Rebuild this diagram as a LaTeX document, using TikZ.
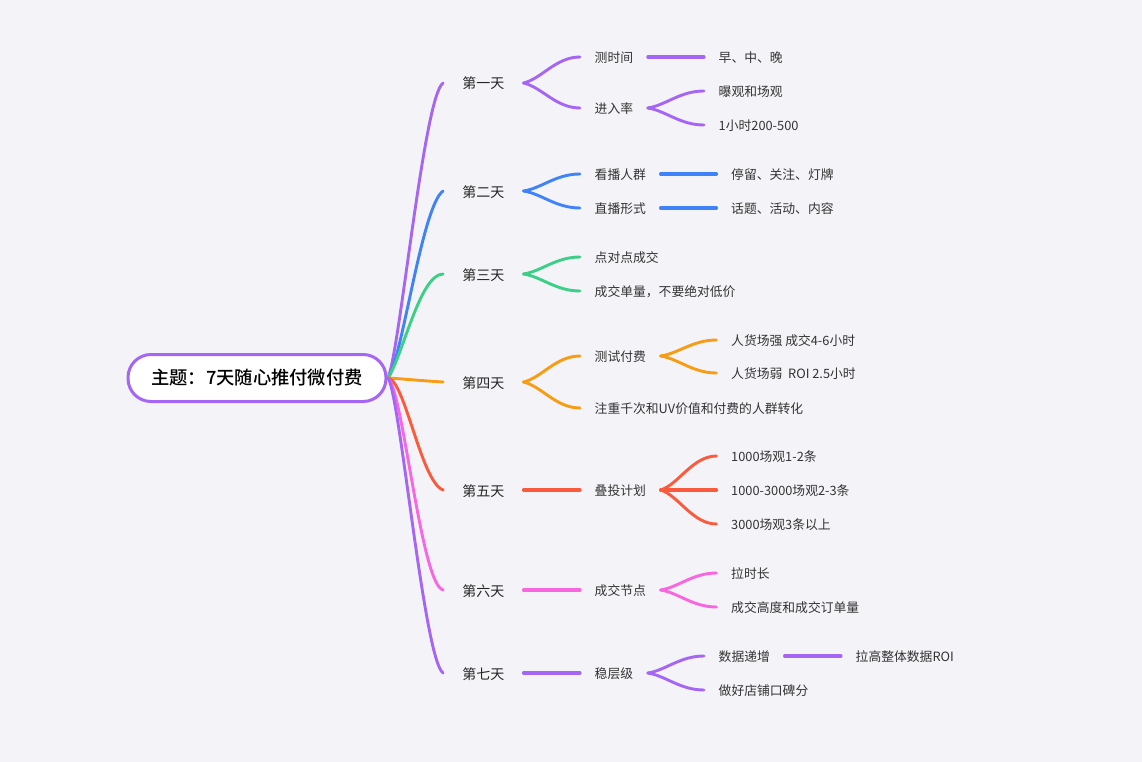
\documentclass[tikz,border=0pt]{standalone}
\usepackage{fontspec}
\usetikzlibrary{calc}
\setmainfont{Noto Sans CJK SC}
\newfontfamily\rootfont{Noto Sans CJK SC Medium}
\definecolor{bgcol}{HTML}{F4F4F8}
\definecolor{violetcol}{HTML}{A566F5}
\definecolor{bluecol}{HTML}{3F83FA}
\definecolor{greencol}{HTML}{3CCF87}
\definecolor{orangecol}{HTML}{F89C14}
\definecolor{redcol}{HTML}{FB5A3C}
\definecolor{pinkcol}{HTML}{F966E0}
\tikzset{
  rootbox/.style={draw=violetcol,line width=3pt,fill=white,rounded corners=23pt,minimum width=258pt,minimum height=47pt,inner sep=0pt,font=\rootfont\fontsize{18.3}{20}\selectfont,text=black},
  daybox/.style={anchor=center,inner xsep=19pt,inner ysep=0pt,text height=13pt,text depth=1pt,font=\fontsize{14}{16}\selectfont,text=black!85},
  itembox/.style={anchor=west,inner xsep=14.5pt,inner ysep=0pt,text height=12pt,text depth=1pt,font=\fontsize{12.8}{15}\selectfont,text=black!80},
  link/.style={line width=2.9pt,line cap=round},
  flatlink/.style={line width=3.1pt,line cap=round},
}
\newcommand{\branchline}[3]{\draw[link,#1] let \p1=(#2.east), \p2=(#3.west) in (\p1) .. controls ({\x1+0.32*(\x2-\x1)},{\y1+0.16*(\y2-\y1)}) and ({\x1+0.57*(\x2-\x1)},\y2) .. (\p2);}
\newcommand{\flatline}[3]{\draw[flatlink,#1] (#2.east) -- (#3.west);}
\begin{document}
\begin{tikzpicture}[x=1pt,y=-1pt]

    % Background
    \fill[bgcol] (0,0) rectangle (1142,762);

    % First and second level
    \node[daybox] (d1) at (483.3,83) {第一天};
    \node[daybox] (d2) at (483.3,191) {第二天};
    \node[daybox] (d3) at (483.3,274) {第三天};
    \node[daybox] (d4) at (483.3,382) {第四天};
    \node[daybox] (d5) at (483.3,490) {第五天};
    \node[daybox] (d6) at (483.3,590) {第六天};
    \node[daybox] (d7) at (483.3,673) {第七天};

    % Lines out of the root
    \coordinate (rootend) at (388,378);
    \draw[link,violetcol] (rootend) .. controls (400,350) and (424,95) .. (d1.west);
    \draw[link,bluecol] (rootend) .. controls (402,360) and (422,205) .. (d2.west);
    \draw[link,greencol] (rootend) .. controls (403,355) and (420,274) .. (d3.west);
    \draw[link,orangecol] (rootend) .. controls (405,379) and (425,381) .. (d4.west);
    \draw[link,redcol] (rootend) .. controls (405,380) and (421,482) .. (d5.west);
    \draw[link,pinkcol] (rootend) .. controls (403,390) and (421,585) .. (d6.west);
    \draw[link,violetcol] (rootend) .. controls (400,395) and (424,660) .. (d7.west);

    % Root
    \node[rootbox] (root) at (257,378) {主题：7天随心推付微付费};

    % Third level
    \node[itembox] (a1) at (580,57) {测时间};
    \node[itembox] (a2) at (580,108) {进入率};
    \node[itembox] (b1) at (580,174) {看播人群};
    \node[itembox] (b2) at (580,208) {直播形式};
    \node[itembox] (c1) at (580,257) {点对点成交};
    \node[itembox] (c2) at (580,291) {成交单量，不要绝对低价};
    \node[itembox] (e1) at (580,356) {测试付费};
    \node[itembox] (e2) at (580,408) {注重千次和UV价值和付费的人群转化};
    \node[itembox] (f1) at (580,490) {叠投计划};
    \node[itembox] (g1) at (580,590) {成交节点};
    \node[itembox] (h1) at (580,673) {稳层级};

    % Fourth level
    \node[itembox] (a11) at (704,57) {早、中、晚};
    \node[itembox] (a21) at (704,91) {曝观和场观};
    \node[itembox] (a22) at (704,125) {1小时200-500};
    \node[itembox] (b11) at (716.5,174) {停留、关注、灯牌};
    \node[itembox] (b21) at (716.5,208) {话题、活动、内容};
    \node[itembox] (e11) at (716.5,340) {人货场强 成交4-6小时};
    \node[itembox] (e12) at (716.5,373) {人货场弱~~ROI 2.5小时};
    \node[itembox] (f11) at (716.5,456) {1000场观1-2条};
    \node[itembox] (f12) at (716.5,490) {1000-3000场观2-3条};
    \node[itembox] (f13) at (716.5,524) {3000场观3条以上};
    \node[itembox] (g11) at (716.5,573) {拉时长};
    \node[itembox] (g12) at (716.5,607) {成交高度和成交订单量};
    \node[itembox] (h11) at (704,656) {数据递增};
    \node[itembox] (h12) at (704,690) {做好店铺口碑分};
    \node[itembox] (h111) at (841,656) {拉高整体数据ROI};

    % Connectors
    \branchline{violetcol}{d1}{a1}
    \branchline{violetcol}{d1}{a2}
    \flatline{violetcol}{a1}{a11}
    \branchline{violetcol}{a2}{a21}
    \branchline{violetcol}{a2}{a22}
    \branchline{bluecol}{d2}{b1}
    \branchline{bluecol}{d2}{b2}
    \flatline{bluecol}{b1}{b11}
    \flatline{bluecol}{b2}{b21}
    \branchline{greencol}{d3}{c1}
    \branchline{greencol}{d3}{c2}
    \branchline{orangecol}{d4}{e1}
    \branchline{orangecol}{d4}{e2}
    \branchline{orangecol}{e1}{e11}
    \branchline{orangecol}{e1}{e12}
    \flatline{redcol}{d5}{f1}
    \branchline{redcol}{f1}{f11}
    \flatline{redcol}{f1}{f12}
    \branchline{redcol}{f1}{f13}
    \flatline{pinkcol}{d6}{g1}
    \branchline{pinkcol}{g1}{g11}
    \branchline{pinkcol}{g1}{g12}
    \flatline{violetcol}{d7}{h1}
    \branchline{violetcol}{h1}{h11}
    \branchline{violetcol}{h1}{h12}
    \flatline{violetcol}{h11}{h111}

\end{tikzpicture}
\end{document}
